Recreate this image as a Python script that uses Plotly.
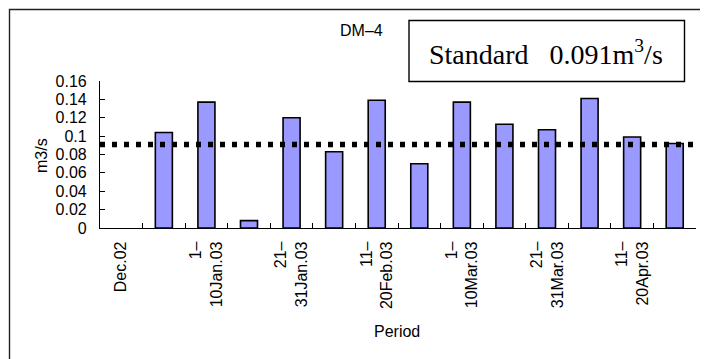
import plotly.graph_objects as go

# ---- data ----
categories = ["Dec.02", "21–31Dec.02", "1–10Jan.03", "11–20Jan.03", "21–31Jan.03",
              "1–10Feb.03", "11–20Feb.03", "21–28Feb.03", "1–10Mar.03", "11–20Mar.03",
              "21–31Mar.03", "1–10Apr.03", "11–20Apr.03", "21–30Apr.03"]
flow = [None, 0.104, 0.137, 0.008, 0.120, 0.083, 0.139, 0.070, 0.137, 0.113,
        0.107, 0.141, 0.099, 0.092]
tick_text = ["Dec.02", "", "1–<br>10Jan.03", "", "21–<br>31Jan.03", "",
             "11–<br>20Feb.03", "", "1–<br>10Mar.03", "", "21–<br>31Mar.03", "",
             "11–<br>20Apr.03", ""]
y_tick_vals = [0, 0.02, 0.04, 0.06, 0.08, 0.1, 0.12, 0.14, 0.16]
y_tick_text = ["0", "0.02", "0.04", "0.06", "0.08", "0.1", "0.12", "0.14", "0.16"]
standard = 0.091

# page body has an 8px margin; lay out in window pixels and subtract it
OX, OY = 8, 8
W, H = 700, 351
PLOT_L, PLOT_R, PLOT_T, PLOT_B = 100, 696, 81, 228   # window pixels
L, T = PLOT_L - OX, PLOT_T - OY
R, B = W - (PLOT_R - OX), H - (PLOT_B - OY)
PW, PH = PLOT_R - PLOT_L, PLOT_B - PLOT_T


def xp(px):
    return (px - PLOT_L) / PW


def yp(py):
    return (PLOT_B - py) / PH


font = "Liberation Sans, Arial, sans-serif"

fig = go.Figure()
fig.add_trace(go.Bar(
    x=categories, y=flow,
    marker=dict(color="#9999FF", line=dict(color="black", width=1.6)),
    showlegend=False, hoverinfo="x+y",
))

fig.update_layout(
    width=W, height=H,
    margin=dict(l=L, r=R, t=T, b=B, pad=0),
    paper_bgcolor="white", plot_bgcolor="white",
    bargap=0.6,
    font=dict(family=font, size=16, color="black"),
    xaxis=dict(
        type="category", categoryorder="array", categoryarray=categories,
        tickmode="array", tickvals=categories, ticktext=tick_text,
        tickangle=-90, tickson="boundaries", ticklabelstandoff=6,
        ticks="inside", ticklen=5, tickwidth=1, tickcolor="black",
        showline=True, linecolor="black", linewidth=1.2,
        showgrid=False, zeroline=False, automargin=False,
        tickfont=dict(family=font, size=16),
    ),
    yaxis=dict(
        range=[0, 0.16], tickmode="array", tickvals=y_tick_vals, ticktext=y_tick_text,
        ticks="inside", ticklen=5, tickwidth=1, tickcolor="black",
        ticklabelstandoff=9,
        showline=True, linecolor="black", linewidth=1.2,
        showgrid=False, zeroline=False, automargin=False,
        tickfont=dict(family=font, size=16),
    ),
)

# standard line
fig.add_shape(type="line", xref="paper", yref="y", x0=0, x1=xp(703),
              y0=standard, y1=standard,
              line=dict(color="black", width=5.5, dash="5px,7px"))

# outer chart-area border
fig.add_shape(type="rect", xref="paper", yref="paper",
              x0=xp(9.5), x1=xp(730), y0=yp(380), y1=yp(9.5),
              line=dict(color="#222", width=1.4), layer="above")

# standard box
fig.add_shape(type="rect", xref="paper", yref="paper",
              x0=xp(409), x1=xp(684.5), y0=yp(81.5), y1=yp(20.5),
              line=dict(color="black", width=1.4), fillcolor="white")
fig.add_annotation(xref="paper", yref="paper", x=xp(546), y=yp(52),
                   text="Standard   0.091m<sup>3</sup>/s", showarrow=False,
                   font=dict(family="Liberation Serif, Times New Roman, serif", size=28),
                   xanchor="center", yanchor="middle")

# titles
fig.add_annotation(xref="paper", yref="paper", x=xp(361), y=yp(30),
                   text="DM–4", showarrow=False, font=dict(size=16),
                   xanchor="center", yanchor="middle")
fig.add_annotation(xref="paper", yref="paper", x=xp(397), y=yp(331),
                   text="Period", showarrow=False, font=dict(size=16),
                   xanchor="center", yanchor="middle")
fig.add_annotation(xref="paper", yref="paper", x=xp(41), y=yp(156),
                   text="m3/s", showarrow=False, font=dict(size=16), textangle=-90,
                   xanchor="center", yanchor="middle")

fig.write_html("out.html")
